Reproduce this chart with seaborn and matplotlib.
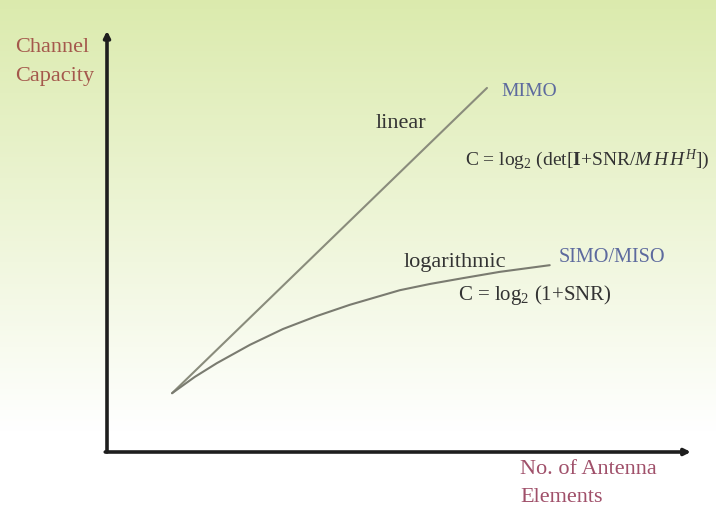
import numpy as np
import pandas as pd
import seaborn as sns
from matplotlib import pyplot as plt

# capacity vs. number of antenna elements (arbitrary units)
mimo_antennas = [1.12, 6.54]
mimo_capacity = [1.41, 8.73]

siso_antennas = [1.12, 1.51, 1.89, 2.46, 3.03, 3.61, 4.18, 5.04, 5.56, 6.13, 6.76, 7.62]
siso_capacity = [1.41, 1.80, 2.13, 2.57, 2.95, 3.26, 3.53, 3.88, 4.03, 4.17, 4.32, 4.48]

W, H = 716, 508

sns.set_theme(style="white")
plt.rcParams["font.family"] = ["Liberation Serif", "DejaVu Serif"]
plt.rcParams["mathtext.fontset"] = "custom"
plt.rcParams["mathtext.rm"] = "Liberation Serif"
plt.rcParams["mathtext.it"] = "Liberation Serif:italic"
plt.rcParams["mathtext.bf"] = "Liberation Serif:bold"

fig = plt.figure(figsize=(W / 100, H / 100), dpi=100)

# background: light green fading to white
bg = fig.add_axes([0, 0, 1, 1])
t = np.clip(np.linspace(0, 1, H) / 0.85, 0, 1)[:, None]
top = np.array([0.86, 0.92, 0.68])
bot = np.array([1.0, 1.0, 1.0])
grad = top[None, None, :] * (1 - t[..., None]) + bot[None, None, :] * t[..., None]
grad = np.repeat(grad, 4, axis=1)
bg.imshow(grad, aspect="auto", extent=[0, 1, 0, 1])
bg.axis("off")

ax = fig.add_axes([107 / W, 56 / H, 581 / W, 417 / H])
ax.patch.set_alpha(0)
ax.set_xlim(0, 10)
ax.set_ylim(0, 10)
ax.axis("off")

df_mimo = pd.DataFrame({"antennas": mimo_antennas, "capacity": mimo_capacity})
df_siso = pd.DataFrame({"antennas": siso_antennas, "capacity": siso_capacity})
sns.lineplot(data=df_mimo, x="antennas", y="capacity", ax=ax, color="#8a8c7c", lw=1.5)
sns.lineplot(data=df_siso, x="antennas", y="capacity", ax=ax, color="#7a7b70", lw=1.5)

# axes drawn as arrows
arrow = dict(arrowstyle="-|>", color="#1e1e1e", lw=2.6, mutation_scale=9,
             shrinkA=0, shrinkB=0)
ax.annotate("", xy=(0, 10.1), xytext=(0, 0), arrowprops=arrow, annotation_clip=False)
ax.annotate("", xy=(10.05, 0), xytext=(-0.03, 0), arrowprops=arrow, annotation_clip=False)


def label(x, y, s, color, size=16, ha="left"):
    fig.text(x / W, 1 - y / H, s, color=color, fontsize=size, ha=ha, va="center")


label(15, 47, "Channel", "#a4584c")
label(15, 77, "Capacity", "#a4584c")
label(520, 470, "No. of Antenna", "#a0506a")
label(520, 497, "Elements", "#a0506a")

label(501, 92, "MIMO", "#5d6a9e", size=14)
label(376, 124, "linear", "#333333")
label(465, 160, r"C = log$_2$ (det[$\mathbf{I}$+SNR/$M\,H\,H^H$])", "#333333", size=14)
label(404, 262, "logarithmic", "#333333")
label(559, 258, "SIMO/MISO", "#5d6a9e", size=14.6)
label(458, 295, r"C = log$_2$ (1+SNR)", "#333333", size=15)

fig.savefig("out.png", dpi=100)
